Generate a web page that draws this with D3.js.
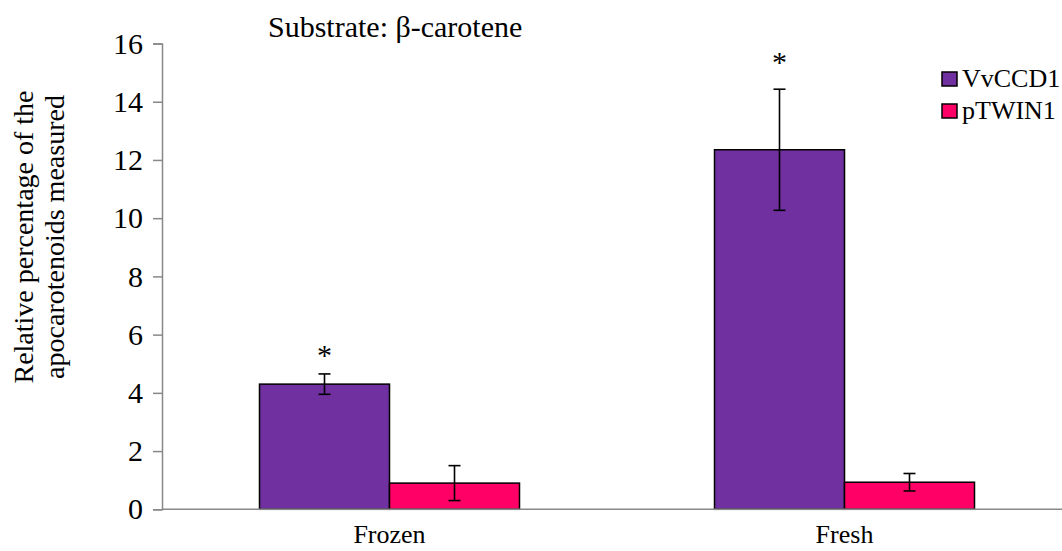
<!DOCTYPE html>
<html>
<head>
<meta charset="utf-8">
<script src="https://cdn.jsdelivr.net/npm/d3@7"></script>
<style>
  body { margin: 0; background: #fff; }
  svg text { font-family: "Liberation Serif", "Times New Roman", serif; fill: #000; }
</style>
</head>
<body>
<div id="chart"></div>
<script>
// data
const categories = ["Frozen", "Fresh"];
const seriesNames = ["VvCCD1", "pTWIN1"];
const seriesColors = ["#7030A0", "#FF0066"];
const vvccd1 = [4.30, 12.35];
const vvccd1Err = [0.35, 2.08];
const ptwin1 = [0.90, 0.93];
const ptwin1Err = [0.60, 0.30];
const stars = ["*", "*"];        // significance marks above VvCCD1
const starLevel = [5.44, 15.5];  // height of the marks, in axis units
const yTicks = [0, 2, 4, 6, 8, 10, 12, 14, 16];

const W = 1062, H = 551;
const margin = {top: 43.5, left: 162, bottom: 41.7};
const serif = "'Liberation Serif', 'Times New Roman', serif";

const svg = d3.select("#chart").append("svg")
    .attr("width", W).attr("height", H)
    .attr("font-family", serif);

// scales
const x = d3.scaleBand()
    .domain(categories)
    .range([margin.left, margin.left + 910]);
const y = d3.scaleLinear()
    .domain([0, 16])
    .range([H - margin.bottom, margin.top]);

const barW = 130;
const series = [
  {name: seriesNames[0], values: vvccd1, err: vvccd1Err, color: seriesColors[0], offset: -barW},
  {name: seriesNames[1], values: ptwin1, err: ptwin1Err, color: seriesColors[1], offset: 0}
];

// bars
series.forEach(s => {
  const g = svg.append("g");
  g.selectAll("rect")
    .data(categories)
    .enter().append("rect")
      .attr("x", c => x(c) + x.bandwidth() / 2 + s.offset)
      .attr("y", (c, i) => y(s.values[i]))
      .attr("width", barW)
      .attr("height", (c, i) => y(0) - y(s.values[i]))
      .style("fill", s.color)
      .style("stroke", "#000")
      .style("stroke-width", 1.5);

  // error bars
  categories.forEach((c, i) => {
    const cx = x(c) + x.bandwidth() / 2 + s.offset + barW / 2;
    const hi = y(s.values[i] + s.err[i]), lo = y(s.values[i] - s.err[i]);
    g.append("line").attr("x1", cx).attr("x2", cx).attr("y1", hi).attr("y2", lo)
      .attr("stroke", "#000").attr("stroke-width", 1.6);
    [hi, lo].forEach(yy => {
      g.append("line").attr("x1", cx - 6).attr("x2", cx + 6).attr("y1", yy).attr("y2", yy)
        .attr("stroke", "#000").attr("stroke-width", 1.6);
    });
  });
});

// asterisks
svg.selectAll(".star")
  .data(categories)
  .enter().append("text")
    .attr("class", "star")
    .attr("x", c => x(c) + x.bandwidth() / 2 - barW / 2)
    .attr("y", (c, i) => y(starLevel[i]) + 14)
    .attr("text-anchor", "middle")
    .style("font-size", "30px")
    .text((c, i) => stars[i]);

// Y axis
const yAxis = svg.append("g")
    .attr("transform", `translate(${margin.left},0)`)
    .call(d3.axisLeft(y).tickValues(yTicks).tickSize(9).tickPadding(10));
yAxis.attr("font-family", null).attr("font-size", null);
yAxis.select(".domain").attr("stroke", "#888").attr("stroke-width", 1.5);
yAxis.selectAll(".tick line").attr("stroke", "#888").attr("stroke-width", 1.5);
yAxis.selectAll(".tick text")
    .style("font-size", "30px")
    .attr("fill", "#000");

// X axis baseline and labels
svg.append("line")
    .attr("x1", margin.left).attr("x2", W)
    .attr("y1", y(0)).attr("y2", y(0))
    .attr("stroke", "#888").attr("stroke-width", 1.5);
svg.selectAll(".cat")
  .data(categories)
  .enter().append("text")
    .attr("class", "cat")
    .attr("x", c => x(c) + x.bandwidth() / 2)
    .attr("y", 543)
    .attr("text-anchor", "middle")
    .style("font-size", "26px")
    .text(c => c);

// Y axis title
const yt = svg.append("text")
    .attr("transform", "translate(0,237) rotate(-90)")
    .attr("text-anchor", "middle")
    .style("font-size", "28px");
yt.append("tspan").attr("x", 0).attr("y", 33).text("Relative percentage of the");
yt.append("tspan").attr("x", 0).attr("y", 64).text("apocarotenoids measured");

// chart title
svg.append("text")
    .attr("x", 268).attr("y", 37)
    .style("font-size", "30px")
    .text("Substrate: β-carotene");

// legend
const legend = svg.append("g").attr("transform", "translate(942,72)");
seriesNames.forEach((n, i) => {
  legend.append("rect")
    .attr("x", 0).attr("y", i * 32)
    .attr("width", 15).attr("height", 14)
    .style("fill", seriesColors[i])
    .style("stroke", "#000").style("stroke-width", 1.5);
  legend.append("text")
    .attr("x", 20).attr("y", i * 32 + 15)
    .style("font-size", "26px")
    .text(n);
});
</script>
</body>
</html>
